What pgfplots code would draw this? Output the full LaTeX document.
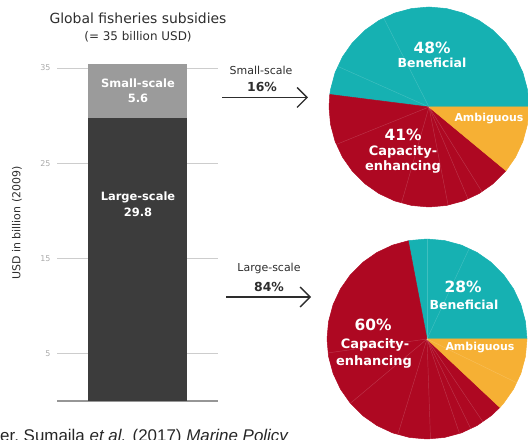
\documentclass[border=0pt]{standalone}
\usepackage{pgfplots}
\pgfplotsset{compat=1.18}
\usepackage{fontspec}
\setmainfont{DejaVu Sans}
\newfontfamily\arial{Liberation Sans}
\usetikzlibrary{arrows.meta}

\definecolor{benef}{RGB}{22,177,178}
\definecolor{capac}{RGB}{174,8,34}
\definecolor{ambig}{RGB}{246,176,52}
\definecolor{smallgray}{RGB}{155,155,155}
\definecolor{largegray}{RGB}{60,60,60}
\definecolor{gridgray}{RGB}{205,205,205}
\definecolor{basegray}{RGB}{150,150,150}
\definecolor{tickgray}{RGB}{170,170,170}
\definecolor{txt}{RGB}{45,45,45}

\newcommand\fs[1]{\fontsize{#1}{#1}\selectfont}

% pie axis: wedges given in polar coords (angle, radius), radius 1 = 100bp
\pgfplotsset{
  pie/.style={anchor=south west, scale only axis, width=200bp, height=200bp,
    xmin=-1, xmax=1, ymin=-1, ymax=1, hide axis, clip=false},
  wedge/.style={fill=#1, draw=#1, line width=0.5bp, line join=round, data cs=polar},
  split/.style={draw=white, draw opacity=0.18, line width=0.45bp, data cs=polar},
}

\begin{document}
\begin{tikzpicture}

% ---- stacked bar: small-scale 5.6 + large-scale 29.8 (billion USD)
\begin{axis}[
  at={(57bp,38.5bp)}, anchor=south west,
  scale only axis, width=161bp, height=343bp,
  xmin=57, xmax=218, ymin=0, ymax=36,
  ybar stacked, bar width=99,
  axis line style={draw=none},
  xtick=\empty,
  ytick={5,15,25,35},
  major tick length=0pt,
  ymajorgrids, grid style={draw=gridgray, line width=1bp},
  extra y ticks={0}, extra y tick labels={},
  extra y tick style={grid style={draw=basegray, line width=2bp}},
  yticklabel style={font=\fs{8}, text=tickgray, xshift=-3bp},
  /pgf/number format/assume math mode=true,
  clip=false,
]
\addplot[fill=largegray, draw=none] coordinates {(137.5,29.8)};
\addplot[fill=smallgray, draw=none] coordinates {(137.5,5.6)};
\end{axis}

% ---- top pie: small-scale split (48 / 41 / 11 %)
\begin{axis}[pie, at={(329bp,233bp)}]
\addplot[wedge=benef] coordinates {(0,0) (0,1) (10,1) (20,1) (30,1) (40,1) (50,1)
  (60,1) (70,1) (80,1) (90,1) (100,1) (110,1) (120,1) (130,1) (140,1) (150,1)
  (160,1) (170,1) (172.8,1)} -- cycle;
\addplot[wedge=capac] coordinates {(0,0) (172.8,1) (180,1) (190,1) (200,1) (210,1)
  (220,1) (230,1) (240,1) (250,1) (260,1) (270,1) (280,1) (290,1) (300,1)
  (310,1) (320,1) (320.4,1)} -- cycle;
\addplot[wedge=ambig] coordinates {(0,0) (320.4,1) (330,1) (340,1) (350,1) (360,1)} -- cycle;
\addplot[split] coordinates {(0,0) (117,1)};
\addplot[split] coordinates {(0,0) (156,1)};
\addplot[split] coordinates {(0,0) (202,1)};
\addplot[split] coordinates {(0,0) (254,1)};
\addplot[split] coordinates {(0,0) (281,1)};
\addplot[split] coordinates {(0,0) (293,1)};
\addplot[split] coordinates {(0,0) (302,1)};
\end{axis}

% ---- bottom pie: large-scale split (28 / 60 / 12 %)
\begin{axis}[pie, at={(327bp,1bp)}]
\addplot[wedge=benef] coordinates {(0,0) (0,1) (10,1) (20,1) (30,1) (40,1) (50,1)
  (60,1) (70,1) (80,1) (90,1) (100,1) (100.8,1)} -- cycle;
\addplot[wedge=capac] coordinates {(0,0) (100.8,1) (110,1) (120,1) (130,1) (140,1)
  (150,1) (160,1) (170,1) (180,1) (190,1) (200,1) (210,1) (220,1) (230,1)
  (240,1) (250,1) (260,1) (270,1) (280,1) (290,1) (300,1) (310,1) (316.8,1)} -- cycle;
\addplot[wedge=ambig] coordinates {(0,0) (316.8,1) (320,1) (330,1) (340,1) (350,1) (360,1)} -- cycle;
\addplot[split] coordinates {(0,0) (65,1)};
\addplot[split] coordinates {(0,0) (90,1)};
\addplot[split] coordinates {(0,0) (188,1)};
\addplot[split] coordinates {(0,0) (220,1)};
\addplot[split] coordinates {(0,0) (253,1)};
\addplot[split] coordinates {(0,0) (272,1)};
\addplot[split] coordinates {(0,0) (289,1)};
\addplot[split] coordinates {(0,0) (296,1)};
\addplot[split] coordinates {(0,0) (304,1)};
\addplot[split] coordinates {(0,0) (334,1)};
\end{axis}

% ---- titles and labels
\node[text=txt, inner sep=0] at (138bp,422bp) {\fs{14}Global fisheries subsidies};
\node[text=txt, inner sep=0] at (138bp,403bp) {\fs{12}(= 35 billion USD)};
\node[text=txt, inner sep=0, rotate=90] at (17bp,217bp) {\fs{11}USD in billion (2009)};

\node[text=white, inner sep=0, font=\bfseries] at (138bp,357bp) {\fs{11.5}Small-scale};
\node[text=white, inner sep=0, font=\bfseries] at (138bp,342bp) {\fs{11.5}5.6};
\node[text=white, inner sep=0, font=\bfseries] at (138bp,243bp) {\fs{11.5}Large-scale};
\node[text=white, inner sep=0, font=\bfseries] at (138bp,228bp) {\fs{11.5}29.8};

% arrows
\node[text=txt, inner sep=0] at (261bp,370bp) {\fs{11}Small-scale};
\node[text=txt, inner sep=0, font=\bfseries] at (262bp,353bp) {\fs{12.5}16\%};
\draw[txt, line width=1.6bp, -{Straight Barb[length=10bp,width=20bp,line width=1.3bp]}]
  (222bp,342.5bp) -- (308bp,342.5bp);
\node[text=txt, inner sep=0] at (269bp,172bp) {\fs{11}Large-scale};
\node[text=txt, inner sep=0, font=\bfseries] at (269bp,153bp) {\fs{12.5}84\%};
\draw[txt, line width=1.6bp, -{Straight Barb[length=10bp,width=20bp,line width=1.3bp]}]
  (226bp,143bp) -- (311bp,143bp);

% pie texts, top
\node[text=white, inner sep=0, font=\bfseries] at (432bp,392bp) {\fs{15.5}48\%};
\node[text=white, inner sep=0, font=\bfseries] at (432bp,377bp) {\fs{12.5}Beneficial};
\node[text=white, inner sep=0, font=\bfseries] at (489bp,321bp) {\fs{11}Ambiguous};
\node[text=white, inner sep=0, font=\bfseries] at (403bp,305bp) {\fs{15.5}41\%};
\node[text=white, inner sep=0, font=\bfseries] at (403bp,288bp) {\fs{13}Capacity-};
\node[text=white, inner sep=0, font=\bfseries] at (403bp,273bp) {\fs{13}enhancing};

% pie texts, bottom
\node[text=white, inner sep=0, font=\bfseries] at (463bp,153bp) {\fs{15.5}28\%};
\node[text=white, inner sep=0, font=\bfseries] at (464bp,135bp) {\fs{12.5}Beneficial};
\node[text=white, inner sep=0, font=\bfseries] at (480bp,92bp) {\fs{11}Ambiguous};
\node[text=white, inner sep=0, font=\bfseries] at (373bp,115bp) {\fs{15.5}60\%};
\node[text=white, inner sep=0, font=\bfseries] at (375bp,95bp) {\fs{13}Capacity-};
\node[text=white, inner sep=0, font=\bfseries] at (374bp,78bp) {\fs{13}enhancing};

% source line, cut by the bottom edge as in the original
\node[anchor=base west, inner sep=0, text=black!85] at (0bp,-1bp)
  {\arial\fs{17}er, Sumaila \textit{et al.} (2017) \textit{Marine Policy}};

\pgfresetboundingbox
\path[use as bounding box] (0bp,0bp) rectangle (528bp,440bp);
\end{tikzpicture}
\end{document}
